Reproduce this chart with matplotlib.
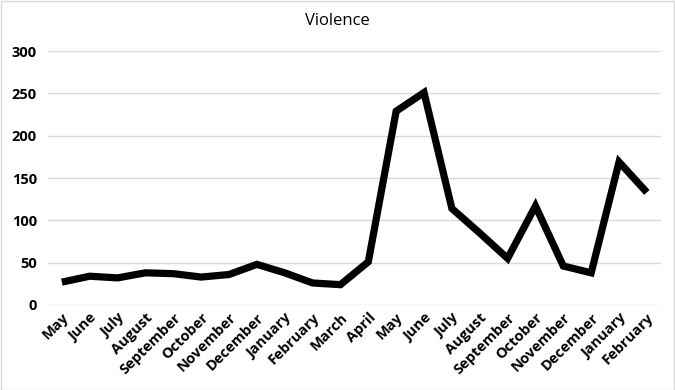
import matplotlib.pyplot as plt

# Monthly counts
months = ['May', 'June', 'July', 'August', 'September', 'October', 'November',
          'December', 'January', 'February', 'March', 'April', 'May', 'June',
          'July', 'August', 'September', 'October', 'November', 'December',
          'January', 'February']
violence = [27, 34, 32, 38, 37, 33, 36, 48, 38, 26, 24, 51, 229, 251,
            114, 85, 55, 117, 46, 38, 169, 133]
y_ticks = [0, 50, 100, 150, 200, 250, 300]

fig = plt.figure(figsize=(6.75, 3.9), dpi=100)
ax = fig.add_axes([0.071, 0.218, 0.908, 0.651])

x = range(len(months))
ax.plot(x, violence, color='black', linewidth=5.2, solid_joinstyle='miter',
        solid_capstyle='butt', zorder=3)

ax.set_xlim(-0.5, len(months) - 0.5)
ax.set_ylim(0, 300)
ax.set_yticks(y_ticks)
ax.set_yticklabels([str(v) for v in y_ticks], fontsize=10.5, fontweight='bold',
                   family='Open Sans')
ax.set_xticks(list(x))
ax.set_xticklabels(months, rotation=45, ha='right', rotation_mode='anchor',
                   fontsize=10.5, fontweight='bold', family='Open Sans')
ax.tick_params(length=0, pad=8)
ax.tick_params(axis='x', pad=4)
ax.grid(axis='y', color='#d9d9d9', linewidth=1)
ax.set_axisbelow(True)
for s in ax.spines.values():
    s.set_visible(False)

fig.text(0.5, 0.945, 'Violence', ha='center', va='center', fontsize=12,
         family='Open Sans')

# light grey frame around the whole chart
fig.patches.append(plt.Rectangle((0.001, 0.001), 0.997, 0.997, transform=fig.transFigure,
                                 fill=False, edgecolor='#d9d9d9', linewidth=1))

fig.savefig('out.png', dpi=100)
